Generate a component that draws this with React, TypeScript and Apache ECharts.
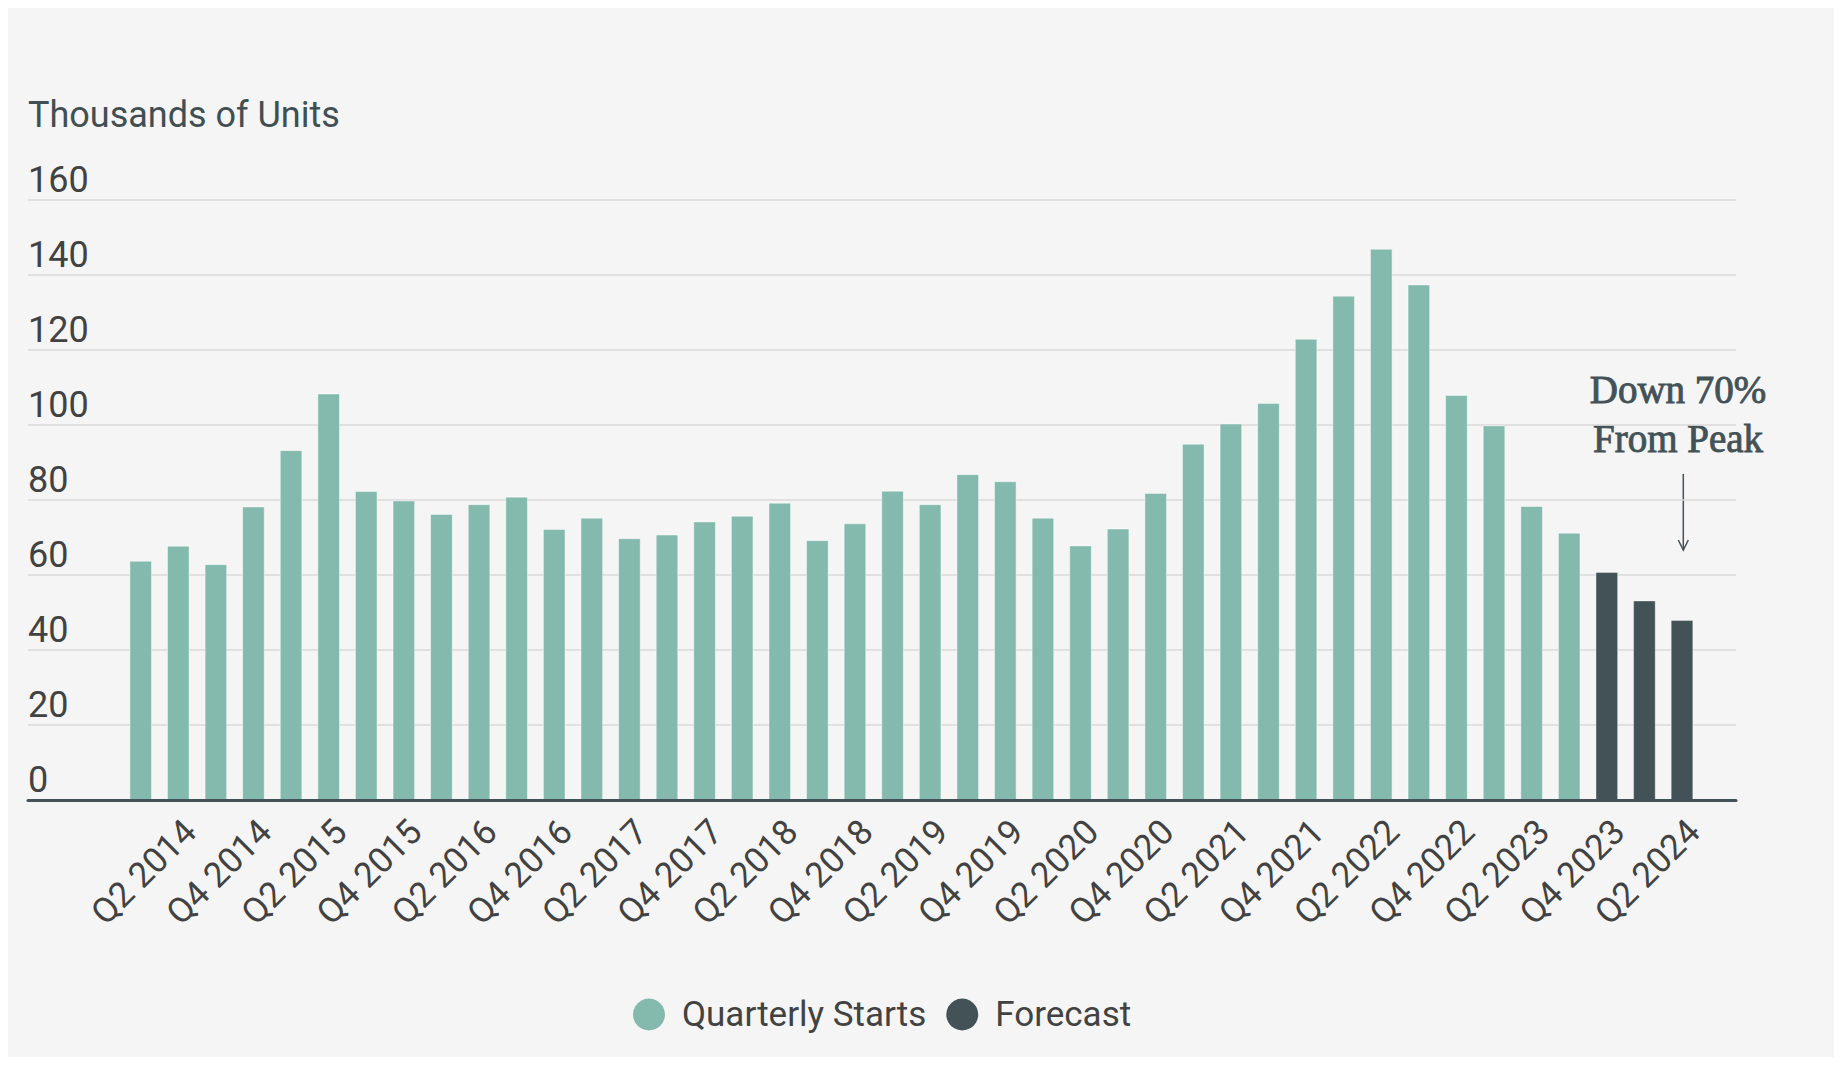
import React, { useEffect, useRef } from "react";
import * as echarts from "echarts";

const categories = [
  "Q1 2014", "Q2 2014", "Q3 2014", "Q4 2014",
  "Q1 2015", "Q2 2015", "Q3 2015", "Q4 2015",
  "Q1 2016", "Q2 2016", "Q3 2016", "Q4 2016",
  "Q1 2017", "Q2 2017", "Q3 2017", "Q4 2017",
  "Q1 2018", "Q2 2018", "Q3 2018", "Q4 2018",
  "Q1 2019", "Q2 2019", "Q3 2019", "Q4 2019",
  "Q1 2020", "Q2 2020", "Q3 2020", "Q4 2020",
  "Q1 2021", "Q2 2021", "Q3 2021", "Q4 2021",
  "Q1 2022", "Q2 2022", "Q3 2022", "Q4 2022",
  "Q1 2023", "Q2 2023", "Q3 2023", "Q4 2023",
  "Q1 2024", "Q2 2024",
];

// Quarterly starts (thousands of units), Q1 2014 – Q3 2023
const startsValues = [
  63.8, 67.8, 62.9, 78.3, 93.3, 108.4, 82.4, 79.9, 76.3, 78.9,
  80.9, 72.3, 75.3, 69.8, 70.8, 74.3, 75.8, 79.3, 69.3, 73.8,
  82.5, 78.9, 86.9, 85.0, 75.3, 67.9, 72.4, 81.9, 95.0, 100.4,
  105.9, 123.0, 134.5, 147.0, 137.5, 108.0, 99.9, 78.4, 71.3,
];

// Forecast, Q4 2023 – Q2 2024
const forecastValues = [60.8, 53.2, 48.0];

const yTicks = { min: 0, max: 160, interval: 20 };

const TEAL = "#83BAAD";
const DARK = "#435257";
const TEXT = "#424242";

export default function App() {
  const ref = useRef<HTMLDivElement>(null);

  useEffect(() => {
    if (!ref.current) return;
    const chart = echarts.init(ref.current, undefined, { renderer: "svg" });

    const startsData = categories.map((_, i) =>
      i < startsValues.length ? startsValues[i] : "-"
    );
    const forecastData = categories.map((_, i) =>
      i >= startsValues.length ? forecastValues[i - startsValues.length] : "-"
    );

    const wide = { left: 20, right: 98, top: 192, bottom: 257 };
    const bars = { left: 113.9, right: 133.2, top: 192, bottom: 257 };
    const dx = 12;
    const labelsGrid = { left: bars.left + dx, right: bars.right - dx, top: 192, bottom: 257 };

    chart.setOption({
      animation: false,
      backgroundColor: "transparent",
      textStyle: { fontFamily: "Roboto" },
      grid: [wide, bars, labelsGrid],
      xAxis: [
        {
          gridIndex: 0,
          type: "category",
          data: [""],
          z: 5,
          axisLine: { show: true, lineStyle: { color: DARK, width: 3 } },
          axisTick: { show: false },
          axisLabel: { show: false },
        },
        {
          gridIndex: 1,
          type: "category",
          data: categories,
          axisLine: { show: false },
          axisTick: { show: false },
          axisLabel: { show: false },
        },
        {
          gridIndex: 2,
          type: "category",
          data: categories,
          axisLine: { show: false },
          axisTick: { show: false },
          axisLabel: {
            show: true,
            rotate: 45,
            margin: 26,
            fontSize: 35,
            fontFamily: "Roboto",
            color: TEXT,
            interval: (idx: number) => idx % 2 === 1,
          },
        },
      ],
      yAxis: [
        {
          gridIndex: 0,
          type: "value",
          min: yTicks.min,
          max: yTicks.max,
          interval: yTicks.interval,
          axisLine: { show: false },
          axisTick: { show: false },
          splitLine: { show: true, lineStyle: { color: "#d9d9d9", width: 1.5 } },
          axisLabel: {
            inside: true,
            margin: 0,
            fontSize: 36,
            fontFamily: "Roboto",
            color: TEXT,
            align: "left",
            verticalAlign: "bottom",
            padding: [0, 0, 2, 0],
          },
        },
        {
          gridIndex: 1,
          type: "value",
          min: yTicks.min,
          max: yTicks.max,
          interval: yTicks.interval,
          show: false,
        },
        {
          gridIndex: 2,
          type: "value",
          min: yTicks.min,
          max: yTicks.max,
          interval: yTicks.interval,
          show: false,
        },
      ],
      legend: {
        left: 620,
        top: 984,
        icon: "circle",
        itemWidth: 32,
        itemHeight: 32,
        itemGap: 20,
        itemStyle: { borderWidth: 0 },
        textStyle: {
          fontSize: 35,
          fontFamily: "Roboto",
          color: TEXT,
          padding: [0, 0, 0, 12],
        },
        data: ["Quarterly Starts", "Forecast"],
      },
      series: [
        {
          name: "Quarterly Starts",
          type: "bar",
          xAxisIndex: 1,
          yAxisIndex: 1,
          data: startsData,
          barWidth: 22.6,
          barGap: "-100%",
          itemStyle: { color: TEAL, borderColor: "rgba(255,255,255,0.45)", borderWidth: 1 },
        },
        {
          name: "Forecast",
          type: "bar",
          xAxisIndex: 1,
          yAxisIndex: 1,
          data: forecastData,
          barWidth: 22.6,
          barGap: "-100%",
          itemStyle: { color: DARK, borderColor: "rgba(255,255,255,0.35)", borderWidth: 1 },
        },
      ],
      graphic: [
        {
          type: "text",
          left: 20,
          top: 89,
          style: {
            text: "Thousands of Units",
            font: "36px Roboto",
            fill: "#3f4f53",
          },
        },
        {
          type: "text",
          x: 1670,
          y: 381.5,
          style: {
            text: "Down 70%",
            font: "39px 'Liberation Serif'",
            fill: DARK,
            stroke: DARK,
            lineWidth: 0.9,
            align: "center",
            verticalAlign: "middle",
          },
        },
        {
          type: "text",
          x: 1670,
          y: 430.5,
          style: {
            text: "From Peak",
            font: "39px 'Liberation Serif'",
            fill: DARK,
            stroke: DARK,
            lineWidth: 0.9,
            align: "center",
            verticalAlign: "middle",
          },
        },
        {
          type: "line",
          shape: { x1: 1675.3, y1: 466, x2: 1675.3, y2: 542 },
          style: { stroke: DARK, lineWidth: 1.5 },
        },
        {
          type: "polyline",
          shape: { points: [[1670.3, 532], [1675.3, 542], [1680.3, 532]] },
          style: { stroke: DARK, lineWidth: 1.5, fill: "none" },
        },
      ],
    });

    return () => chart.dispose();
  }, []);

  return (
    <div
      ref={ref}
      style={{
        width: 1826,
        height: 1049,
        background: "#f5f5f5",
        boxShadow: "0 0 6px rgba(0,0,0,0.3)",
      }}
    />
  );
}
